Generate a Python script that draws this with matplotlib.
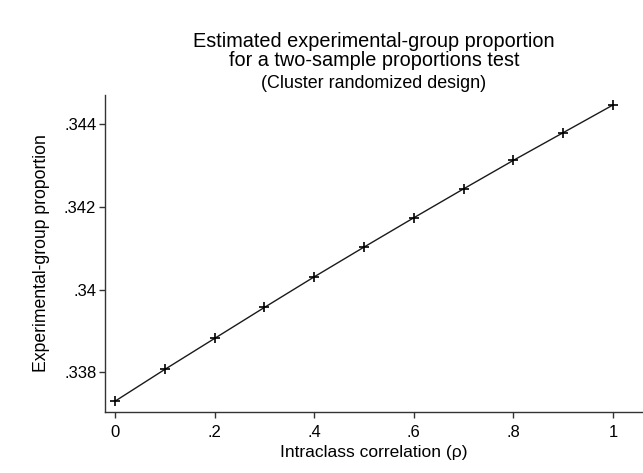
import matplotlib

matplotlib.use("Agg")

import matplotlib.pyplot as plt

plt.rcParams["font.family"] = ["Liberation Sans", "DejaVu Sans"]

icc = [0.0, 0.1, 0.2, 0.3, 0.4, 0.5, 0.6, 0.7, 0.8, 0.9, 1.0]
prop = [0.33730, 0.33807, 0.33882, 0.33957, 0.34031, 0.34103,
        0.34174, 0.34244, 0.34313, 0.34380, 0.34447]

x_ticks = [0, 0.2, 0.4, 0.6, 0.8, 1.0]
x_labels = ["0", ".2", ".4", ".6", ".8", "1"]
y_ticks = [0.338, 0.340, 0.342, 0.344]
y_labels = [".338", ".34", ".342", ".344"]

W, H = 643, 473
fig = plt.figure(figsize=(W / 100, H / 100), dpi=100)
ax = fig.add_axes([105 / W, 1 - 412 / H, 538 / W, 317 / H])

ax.plot(icc, prop, color="#1a1a1a", linewidth=1.0, marker="+",
        markersize=7.5, markeredgewidth=1.2, markeredgecolor="black")

ax.set_xlim(-0.02, 1.06)
ax.set_ylim(0.33704, 0.34471)
ax.set_xticks(x_ticks)
ax.set_xticklabels(x_labels)
ax.set_yticks(y_ticks)
ax.set_yticklabels(y_labels)

for side in ("top", "right"):
    ax.spines[side].set_visible(False)
for side in ("left", "bottom"):
    ax.spines[side].set_linewidth(1.0)
    ax.spines[side].set_color("#333333")
ax.tick_params(direction="out", length=4.3, width=1.0, color="#333333",
               labelsize=12)
ax.tick_params(axis="y", pad=2)
ax.tick_params(axis="x", pad=5)

ax.set_xlabel("Intraclass correlation (ρ)", fontsize=12.5)
ax.xaxis.set_label_coords((374 - 105) / 538, (412 - 452) / 317)
ax.xaxis.label.set_va("center")
ax.set_ylabel("Experimental-group proportion", fontsize=12.7)
ax.yaxis.set_label_coords((42 - 105) / 538, 0.5)
ax.yaxis.label.set_va("center")

cx = 374 / W
fig.text(cx, 1 - 47 / H, "Estimated experimental-group proportion",
         ha="center", va="baseline", fontsize=14.3)
fig.text(cx, 1 - 66 / H, "for a two-sample proportions test",
         ha="center", va="baseline", fontsize=14.3)
fig.text(cx, 1 - 88 / H, "(Cluster randomized design)",
         ha="center", va="baseline", fontsize=12.9)

fig.savefig("out.png", dpi=100, facecolor="white")
